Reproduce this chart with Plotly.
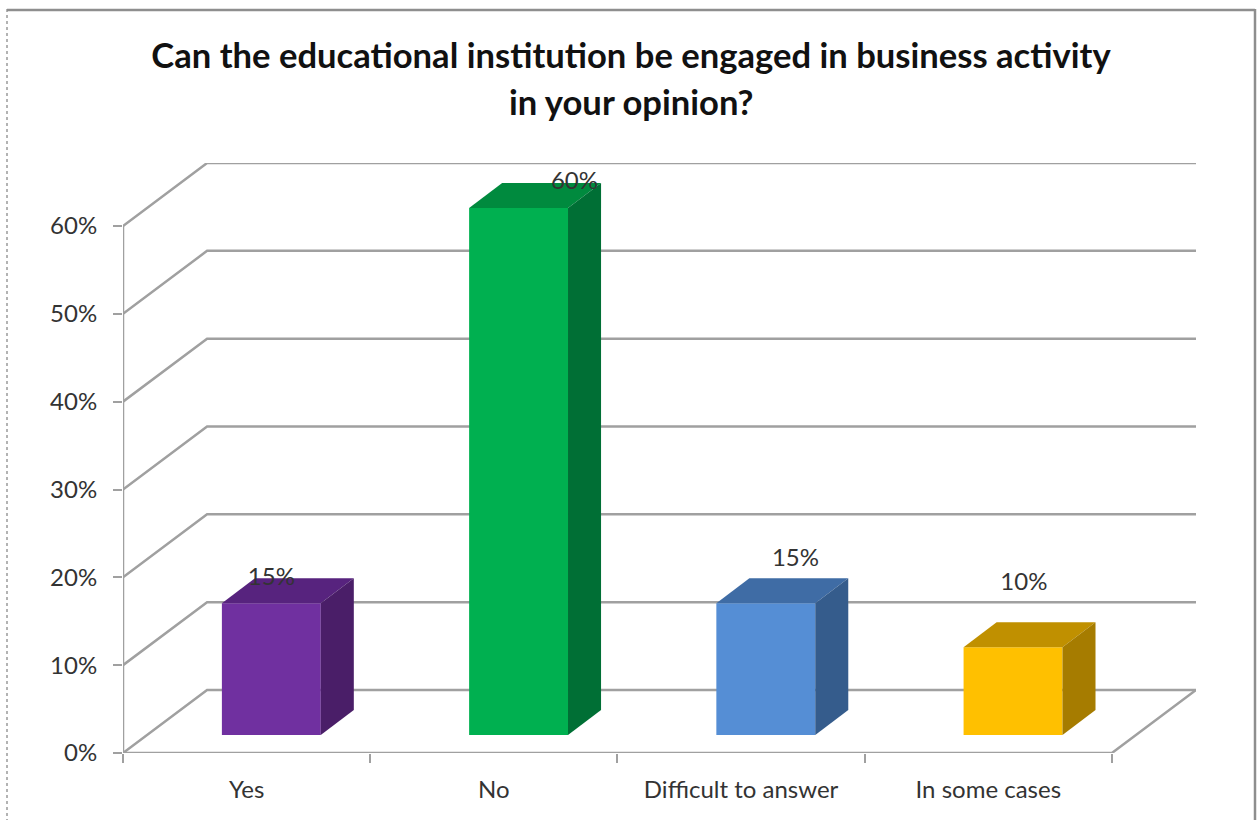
import plotly.graph_objects as go

# Survey results
categories = ["Yes", "No", "Difficult to answer", "In some cases"]
shares = [15, 60, 15, 10]
value_ticks = [0, 10, 20, 30, 40, 50, 60]
value_tick_labels = ["0%", "10%", "20%", "30%", "40%", "50%", "60%"]

# Face colours per bar
front_colors = ["#7030A0", "#00B050", "#558ED5", "#FFC000"]
top_colors = ["#57237E", "#008A3E", "#3F6CA5", "#C09000"]
side_colors = ["#4A1E68", "#006F35", "#355C8C", "#A67C00"]

# Oblique projection of the chart box, in axis units
WALL_DX = 84 / 247
WALL_DY = 63 / 8.783
BAR_DX = 33 / 247
BAR_DY = 25 / 8.783
BAR_BASE = 2.05
BAR_WIDTH = 0.4
BAR_OFFSET = 0.6
X_END = len(categories)
X_MAX = X_END + WALL_DX
Y_MAX = value_ticks[-1] + WALL_DY

# Hand-placed data labels, relative to each bar's value
label_dx = [0.6, 0.826, 0.72, 0.644]
label_dy = [4.85, 4.85, 6.95, 9.25]

GRID = "#A0A0A0"
TEXT = "#333333"

fig = go.Figure()

# Back wall and side wall gridlines
for v in value_ticks:
    fig.add_trace(go.Scatter(
        x=[0, WALL_DX, X_MAX], y=[v, v + WALL_DY, v + WALL_DY],
        mode="lines", line=dict(color=GRID, width=2.5), zorder=0,
        hoverinfo="skip", showlegend=False,
    ))

# Floor outline and vertical axis
fig.add_trace(go.Scatter(
    x=[0, X_END, X_MAX], y=[0, 0, WALL_DY],
    mode="lines", line=dict(color=GRID, width=2.5), zorder=0,
    hoverinfo="skip", showlegend=False,
))
fig.add_trace(go.Scatter(
    x=[0, 0], y=[0, value_ticks[-1]],
    mode="lines", line=dict(color=GRID, width=2.5), zorder=0,
    hoverinfo="skip", showlegend=False,
))

centers = [i + BAR_OFFSET for i in range(len(categories))]

# Front faces
fig.add_trace(go.Bar(
    x=centers, y=shares, base=BAR_BASE, width=BAR_WIDTH,
    marker=dict(color=front_colors, line=dict(width=0)),
    zorder=1, showlegend=False,
))

# Top and side faces
for c, v, tc, sc in zip(centers, shares, top_colors, side_colors):
    left = c - BAR_WIDTH / 2
    right = c + BAR_WIDTH / 2
    top = BAR_BASE + v
    fig.add_trace(go.Scatter(
        x=[left, right, right + BAR_DX, left + BAR_DX, left],
        y=[top, top, top + BAR_DY, top + BAR_DY, top],
        fill="toself", fillcolor=tc, mode="lines", line=dict(width=0),
        zorder=2, hoverinfo="skip", showlegend=False,
    ))
    fig.add_trace(go.Scatter(
        x=[right, right + BAR_DX, right + BAR_DX, right, right],
        y=[BAR_BASE, BAR_BASE + BAR_DY, top + BAR_DY, top, BAR_BASE],
        fill="toself", fillcolor=sc, mode="lines", line=dict(width=0),
        zorder=2, hoverinfo="skip", showlegend=False,
    ))

# Data labels
fig.add_trace(go.Scatter(
    x=[i + d for i, d in enumerate(label_dx)],
    y=[v + d for v, d in zip(shares, label_dy)],
    text=[f"{v}%" for v in shares],
    mode="text", textposition="middle center",
    textfont=dict(family="Lato", size=24, color=TEXT),
    zorder=3, hoverinfo="skip", showlegend=False,
))


def px_x(px):
    return (px - 123) / (1196 - 123)


def px_y(px):
    return (753 - px) / (753 - 163)


# Outer frame of the chart
frame = [
    dict(x0=px_x(7), x1=px_x(7), y0=px_y(9), y1=px_y(820), line=dict(color="#9A9A9A", width=1.5, dash="dot")),
    dict(x0=px_x(7), x1=px_x(1255), y0=px_y(10), y1=px_y(10), line=dict(color="#8E8E8E", width=2.5)),
    dict(x0=px_x(1255), x1=px_x(1255), y0=px_y(9), y1=px_y(820), line=dict(color="#8E8E8E", width=2.5)),
]
shapes = [dict(type="line", xref="paper", yref="paper", **f) for f in frame]

fig.update_layout(
    width=1258,
    height=820,
    autosize=False,
    margin=dict(l=123, r=62, t=163, b=67),
    paper_bgcolor="white",
    plot_bgcolor="white",
    showlegend=False,
    shapes=shapes,
    title=dict(
        text="<b>Can the educational institution be engaged in business activity</b>",
        x=631 / 1258, xanchor="center", y=1 - 56 / 820, yanchor="middle",
        font=dict(family="Lato", size=34.6, color="#111111"),
    ),
    annotations=[dict(
        text="<b>in your opinion?</b>",
        xref="paper", yref="paper", x=px_x(631), y=px_y(102),
        xanchor="center", yanchor="middle", showarrow=False,
        font=dict(family="Lato", size=34.6, color="#111111"),
    )],
    xaxis=dict(
        range=[0, X_MAX],
        tickmode="array",
        tickvals=[i + 0.5 for i in range(len(categories))],
        ticktext=categories,
        ticks="",
        ticklabelstandoff=20,
        tickfont=dict(family="Lato", size=24, color=TEXT),
        showgrid=False, zeroline=False, showline=False,
        minor=dict(tickmode="linear", tick0=0, dtick=1, ticks="outside", ticklen=9, tickwidth=2,
                   tickcolor=GRID, showgrid=False),
    ),
    yaxis=dict(
        range=[0, Y_MAX],
        tickmode="array",
        tickvals=value_ticks,
        ticktext=value_tick_labels,
        ticks="outside", ticklen=9, tickwidth=2, tickcolor=GRID,
        ticklabelstandoff=11,
        tickfont=dict(family="Lato", size=24, color=TEXT),
        showgrid=False, zeroline=False, showline=False,
    ),
)

fig.write_html("out.html")
